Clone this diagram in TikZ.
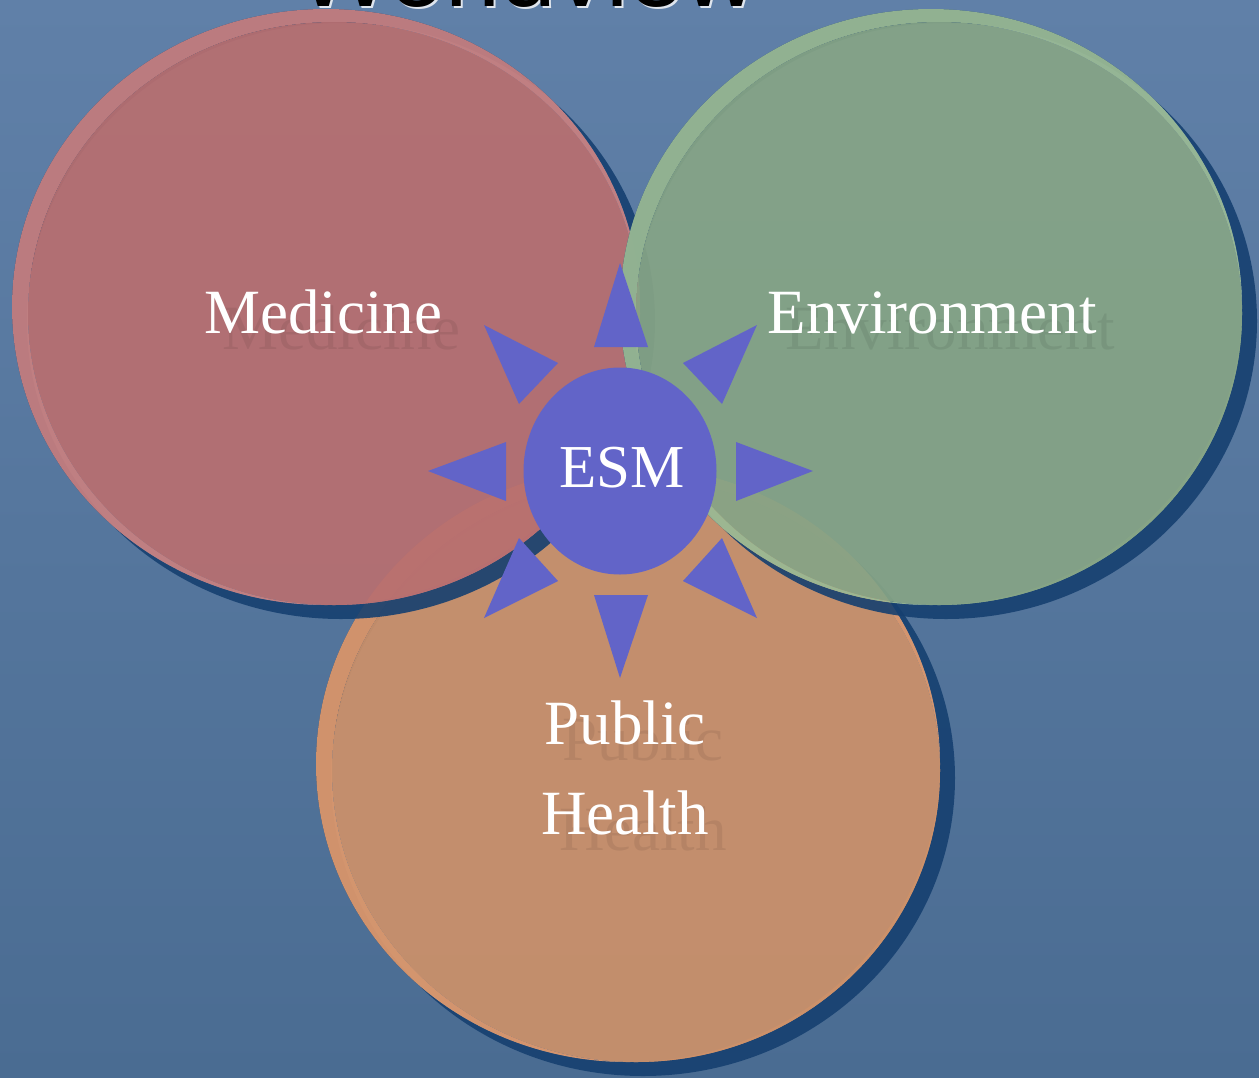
\documentclass[tikz,border=0pt]{standalone}
\usepackage{fontspec}
\setmainfont{Liberation Serif}
\newfontfamily\titlefont{Liberation Sans}
\usetikzlibrary{shapes.geometric}
\definecolor{bgtop}{RGB}{96,128,168}
\definecolor{bgbot}{RGB}{74,108,146}
\definecolor{shadowblue}{RGB}{22,64,112}
\definecolor{redrim}{RGB}{200,128,128}
\definecolor{redfill}{RGB}{184,111,112}
\definecolor{greenrim}{RGB}{154,186,148}
\definecolor{greenfill}{RGB}{134,164,134}
\definecolor{orangerim}{RGB}{222,152,108}
\definecolor{orangefill}{RGB}{204,145,106}
\definecolor{esmblue}{RGB}{98,100,200}
\begin{document}
\begin{tikzpicture}[x=1pt,y=-1pt,
  lbl/.style={text=white, font=\fontsize{63}{90}\selectfont, align=center, inner sep=0pt},
  lblshade/.style={text=black, opacity=0.07, font=\fontsize{63}{90}\selectfont, align=center, inner sep=0pt},
  ringshadow/.style={fill=shadowblue, opacity=0.9, even odd rule},
  discop/.style={opacity=0.93},
  esmdisc/.style={ellipse, fill=esmblue, minimum width=193pt, minimum height=207pt, inner sep=0pt},
  ray/.style={fill=esmblue},
  titletext/.style={font=\titlefont\fontsize{100}{100}\selectfont, inner sep=0pt, anchor=base west}
]
\useasboundingbox (0,0) rectangle (1259,1077);
\clip (0,0) rectangle (1259,1077);
\shade[top color=bgtop, bottom color=bgbot] (0,0) rectangle (1259,1077);

% title (clipped at top)
\node[titletext, text=white, opacity=0.8] (titleglow) at (299,8) {Worldview};
\node[titletext, text=black] (title) at (297,6) {Worldview};

% Public Health circle
\fill[ringshadow] (643,778) ellipse [x radius=312pt, y radius=298pt]
     (628,764) ellipse [x radius=312pt, y radius=298pt];
\fill[orangerim, discop, even odd rule] (628,764) ellipse [x radius=312pt, y radius=298pt]
     (636,770.5) ellipse [x radius=304pt, y radius=291.5pt];
\fill[orangefill, discop] (636,770.5) ellipse [x radius=304pt, y radius=291.5pt];

% Medicine circle
\fill[ringshadow] (341,321) ellipse [x radius=314pt, y radius=298pt]
     (326,307) ellipse [x radius=314pt, y radius=298pt];
\fill[redrim, discop, even odd rule] (326,307) ellipse [x radius=314pt, y radius=298pt]
     (334,313.5) ellipse [x radius=306pt, y radius=291.5pt];
\fill[redfill, discop] (334,313.5) ellipse [x radius=306pt, y radius=291.5pt];

% Environment circle
\fill[ringshadow] (946,321) ellipse [x radius=311pt, y radius=298pt]
     (931,307) ellipse [x radius=311pt, y radius=298pt];
\fill[greenrim, discop, even odd rule] (931,307) ellipse [x radius=311pt, y radius=298pt]
     (939,313.5) ellipse [x radius=303pt, y radius=291.5pt];
\fill[greenfill, discop] (939,313.5) ellipse [x radius=303pt, y radius=291.5pt];

% labels with faint shadows
\node[lblshade, anchor=base] (medshade) at (341,349) {Medicine};
\node[lbl, anchor=base] (med) at (323,333) {Medicine};
\node[lblshade, anchor=base] (envshade) at (950,349) {Environment};
\node[lbl, anchor=base] (env) at (932,333) {Environment};
\node[lblshade] (phshade) at (643,784) {Public\\Health};
\node[lbl] (ph) at (625,768) {Public\\Health};

% ESM hub
\node[esmdisc] (esm) at (620,471) {};
\node[lbl, font=\fontsize{61}{70}\selectfont, anchor=base] (esmlabel) at (622,487) {ESM};

% rays
\fill[ray] (594,347) -- (648,347) -- (620,263) -- cycle;
\fill[ray] (594,595) -- (648,595) -- (620,678) -- cycle;
\fill[ray] (506,442) -- (506,501) -- (428,471) -- cycle;
\fill[ray] (736,442) -- (736,501) -- (813,471) -- cycle;
\fill[ray] (484,325) -- (558,363) -- (519,404) -- cycle;
\fill[ray] (757,325) -- (683,363) -- (722,404) -- cycle;
\fill[ray] (484,618) -- (558,581) -- (519,538) -- cycle;
\fill[ray] (757,618) -- (683,581) -- (722,538) -- cycle;
\end{tikzpicture}
\end{document}
